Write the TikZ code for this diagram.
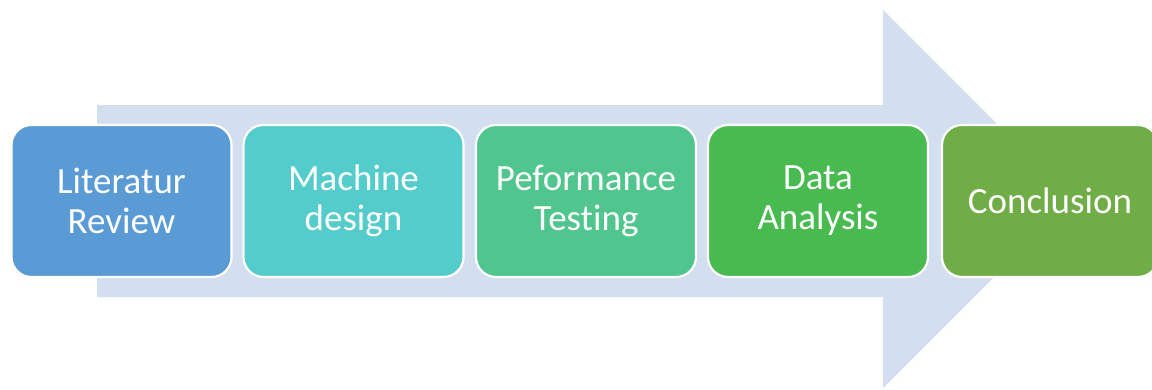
\documentclass[tikz,border=0pt]{standalone}
\usepackage{fontspec}
\setmainfont[Ligatures=NoCommon]{Carlito}
\definecolor{arrowfill}{HTML}{D3DEEF}
\definecolor{stepA}{HTML}{5B9BD5}
\definecolor{stepB}{HTML}{55CCCC}
\definecolor{stepC}{HTML}{50C58E}
\definecolor{stepD}{HTML}{48BA50}
\definecolor{stepE}{HTML}{70AD47}
\begin{document}
\begin{tikzpicture}[x=1pt,y=-1pt,
  stagebox/.style={draw=white, line width=2.2pt, rounded corners=20pt,
    minimum width=220pt, minimum height=152pt, text=white,
    font=\fontsize{37}{40}\selectfont, align=center, inner sep=0pt}]
  \useasboundingbox[fill=white] (0,0) rectangle (1152,389);
  % large background arrow
  \fill[arrowfill] (97,105) -- (883,105) -- (883,10) -- (1072,199)
    -- (883,388) -- (883,297) -- (97,297) -- cycle;
  % process stages
  \node[stagebox, fill=stepA] (lit) at (121.5,201) {Literatur\\Review};
  \node[stagebox, fill=stepB] (mach) at (353.5,201) {Machine\\design};
  \node[stagebox, fill=stepC] (perf) at (586,201) {Peformance\\Testing};
  \node[stagebox, fill=stepD] (data) at (818,201) {Data\\Analysis};
  \node[stagebox, fill=stepE, minimum width=216pt] (conc) at (1050,201) {Conclusion};
\end{tikzpicture}
\end{document}
